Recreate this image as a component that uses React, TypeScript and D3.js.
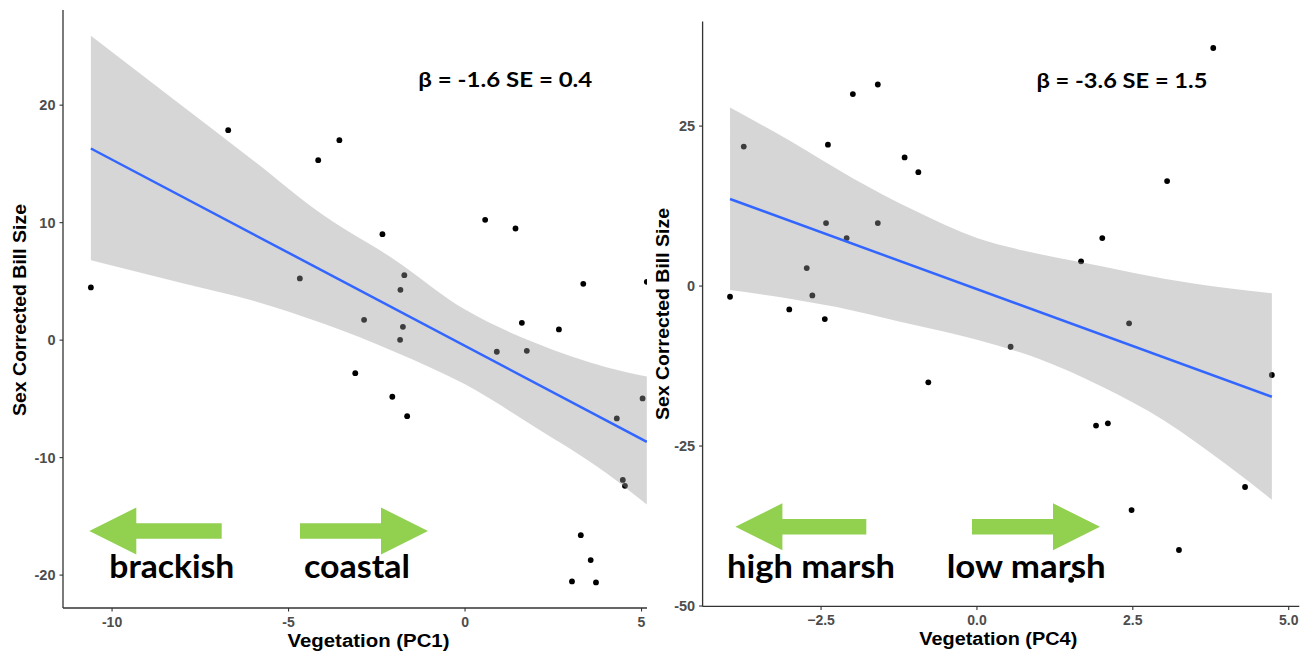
import React from "react";
import * as d3 from "d3";

// Vegetation PC1 scores and sex-corrected bill size
const pc1Veg = [-10.6, -6.71, -3.56, -4.16, -4.68, -2.34, 0.57, 1.43, 3.35, 5.15, -1.72, -1.83, -2.86, -1.76, -1.84, 1.61, 2.66, 0.9, 1.75, -3.11, -2.06, -1.64, 5.03, 4.3, 4.47, 4.53, 3.28, 3.56, 3.03, 3.71];
const pc1Bill = [4.49, 17.87, 17.02, 15.32, 5.25, 9.02, 10.24, 9.5, 4.79, 4.96, 5.53, 4.28, 1.73, 1.13, 0.03, 1.47, 0.91, -0.99, -0.91, -2.81, -4.82, -6.47, -4.96, -6.66, -11.9, -12.4, -16.6, -18.72, -20.54, -20.62];
// Linear fit and its 95% confidence band
const pc1Slope = -1.585;
const pc1Intercept = -0.49;
const pc1BandX = [-10.6, -8, -6, -4, -2, 0, 2, 4, 5.15];
const pc1BandHi = [25.9, 19.9, 15.3, 10.6, 6.85, 2.6, -0.25, -2.31, -3.1];
const pc1BandLo = [6.8, 4.85, 3.35, 1.39, -0.98, -3.76, -7.43, -11.3, -14.0];

// Vegetation PC4 scores and sex-corrected bill size
const pc4Veg = [-1.99, -1.59, -3.74, -2.39, -1.16, -0.94, -2.42, -1.59, -2.09, -2.73, -3.96, -2.64, -3.01, -2.44, -0.78, 2.01, 1.67, 2.44, 0.54, 4.73, 1.91, 2.1, 4.3, 2.48, 3.79, 3.05, 3.24, 1.51];
const pc4Bill = [30.0, 31.5, 21.8, 22.1, 20.1, 17.8, 9.84, 9.84, 7.5, 2.81, -1.67, -1.46, -3.65, -5.16, -15.05, 7.5, 3.86, -5.83, -9.48, -13.9, -21.8, -21.45, -31.4, -35.0, 37.2, 16.4, -41.25, -45.9];
const pc4Slope = -3.556;
const pc4Intercept = -0.48;
const pc4BandX = [-3.96, -3, -2, -1, 0, 1, 2, 3, 4, 4.73];
const pc4BandHi = [27.9, 22.7, 16.9, 11.8, 7.5, 5.0, 3.1, 1.15, -0.3, -1.14];
const pc4BandLo = [-0.63, -2.0, -3.8, -6.1, -8.4, -11.4, -15.7, -21.0, -27.9, -33.4];

// Tick values and labels
const pc1XTicks = [-10, -5, 0, 5];
const pc1YTicks = [-20, -10, 0, 10, 20];
const pc4XTicks = [-2.5, 0, 2.5, 5];
const pc4YTicks = [-50, -25, 0, 25];

const yTitle = "Sex Corrected Bill Size";
const pc1Title = "Vegetation (PC1)";
const pc4Title = "Vegetation (PC4)";
const pc1Stat = "β = -1.6 SE = 0.4";
const pc4Stat = "β = -3.6 SE = 1.5";
const pc1Ends = ["brackish", "coastal"];
const pc4Ends = ["high marsh", "low marsh"];

const AXIS = "#333333";
const TICK_TEXT = "#4d4d4d";
const ARROW = "#92D050";
const SANS = "'Liberation Sans', Arial, Helvetica, sans-serif";
const ANNOT = "Lato, 'Open Sans', 'Noto Sans', sans-serif";

type Panel = {
  id: string;
  xs: number[];
  ys: number[];
  slope: number;
  intercept: number;
  bandX: number[];
  bandHi: number[];
  bandLo: number[];
  xDomain: [number, number];
  xRange: [number, number];
  yDomain: [number, number];
  yRange: [number, number];
  clipRight: number;
  xTicks: number[];
  yTicks: number[];
  xFmt: (v: number) => string;
  xTitle: string;
  xTitleX: number;
  xTitleLen: number;
  yTitleX: number;
  yTitleY: number;
  stat: string;
  statX: number;
  statY: number;
  statLen: number;
  ends: string[];
  endsX: number[];
  endsLen: number[];
  arrowY: number;
  leftArrow: [number, number];
  rightArrow: [number, number];
};

const panels: Panel[] = [
  {
    id: "pc1",
    xs: pc1Veg,
    ys: pc1Bill,
    slope: pc1Slope,
    intercept: pc1Intercept,
    bandX: pc1BandX,
    bandHi: pc1BandHi,
    bandLo: pc1BandLo,
    xDomain: [-11.39, 5.94],
    xRange: [63, 674.7],
    yDomain: [-22.8, 28.1],
    yRange: [608, 10],
    clipRight: 647,
    xTicks: pc1XTicks,
    yTicks: pc1YTicks,
    xFmt: (v) => String(v),
    xTitle: pc1Title,
    xTitleX: 368.5,
    xTitleLen: 162,
    yTitleX: 25.5,
    yTitleY: 310,
    stat: pc1Stat,
    statX: 418.3,
    statY: 87.3,
    statLen: 174,
    ends: pc1Ends,
    endsX: [109.3, 304],
    endsLen: [125, 106],
    arrowY: 531,
    leftArrow: [89.3, 221.7],
    rightArrow: [300, 428],
  },
  {
    id: "pc4",
    xs: pc4Veg,
    ys: pc4Bill,
    slope: pc4Slope,
    intercept: pc4Intercept,
    bandX: pc4BandX,
    bandHi: pc4BandHi,
    bandLo: pc4BandLo,
    xDomain: [-4.4, 5.17],
    xRange: [702.6, 1299.3],
    yDomain: [-50.06, 41.36],
    yRange: [606.4, 21.4],
    clipRight: 1300,
    xTicks: pc4XTicks,
    yTicks: pc4YTicks,
    xFmt: (v) => d3.format(".1f")(v),
    xTitle: pc4Title,
    xTitleX: 998.3,
    xTitleLen: 158,
    yTitleX: 668.5,
    yTitleY: 314,
    stat: pc4Stat,
    statX: 1036.4,
    statY: 88,
    statLen: 171,
    ends: pc4Ends,
    endsX: [727, 946.7],
    endsLen: [168, 159],
    arrowY: 526.8,
    leftArrow: [735.4, 866.3],
    rightArrow: [972, 1100],
  },
];

// Block arrow: tip at `tip`, flat tail at `tail`
function arrowPath(tip: number, tail: number, cy: number): string {
  const dir = tail > tip ? 1 : -1;
  const headLen = 47;
  const headHalf = 23.5;
  const bodyHalf = 7.8;
  const base = tip + dir * headLen;
  return [
    `M${tip},${cy}`,
    `L${base},${cy - headHalf}`,
    `L${base},${cy - bodyHalf}`,
    `L${tail},${cy - bodyHalf}`,
    `L${tail},${cy + bodyHalf}`,
    `L${base},${cy + bodyHalf}`,
    `L${base},${cy + headHalf}`,
    "Z",
  ].join(" ");
}

function PanelView({ p }: { p: Panel }) {
  const x = d3.scaleLinear().domain(p.xDomain).range(p.xRange);
  const y = d3.scaleLinear().domain(p.yDomain).range(p.yRange);
  const left = p.xRange[0];
  const bottom = p.yRange[0];
  const top = p.yRange[1];
  const right = Math.min(p.xRange[1], p.clipRight);

  const band = d3
    .area<number>()
    .x((d) => x(d))
    .y0((_, i) => y(p.bandLo[i]))
    .y1((_, i) => y(p.bandHi[i]))
    .curve(d3.curveMonotoneX)(p.bandX);

  const xMin = d3.min(p.xs) as number;
  const xMax = d3.max(p.xs) as number;
  const fit = d3
    .line<number>()
    .x((d) => x(d))
    .y((d) => y(p.intercept + p.slope * d))([xMin, xMax]);

  const clipId = `clip-${p.id}`;

  return (
    <g>
      <defs>
        <clipPath id={clipId}>
          <rect x={left} y={0} width={right - left} height={656} />
        </clipPath>
      </defs>
      <g clipPath={`url(#${clipId})`}>
        {p.xs.map((v, i) => (
          <circle key={i} cx={x(v)} cy={y(p.ys[i])} r={2.9} fill="#000" />
        ))}
        <path d={band ?? ""} fill="#999999" fillOpacity={0.4} />
        <path d={fit ?? ""} fill="none" stroke="#3366FF" strokeWidth={2.5} />
      </g>

      {/* axes */}
      <line x1={left} x2={left} y1={top} y2={bottom} stroke={AXIS} strokeWidth={1.3} />
      <line x1={left} x2={right} y1={bottom} y2={bottom} stroke={AXIS} strokeWidth={1.3} />
      {p.yTicks.map((t) => (
        <g key={`y${t}`}>
          <line x1={left - 3.5} x2={left} y1={y(t)} y2={y(t)} stroke={AXIS} strokeWidth={1.1} />
          <text
            x={left - 7.5}
            y={y(t) + 5}
            textAnchor="end"
            fontFamily={SANS}
            fontWeight="bold"
            fontSize={14.5}
            fill={TICK_TEXT}
          >
            {String(t)}
          </text>
        </g>
      ))}
      {p.xTicks.map((t) => (
        <g key={`x${t}`}>
          <line x1={x(t)} x2={x(t)} y1={bottom} y2={bottom + 3.5} stroke={AXIS} strokeWidth={1.1} />
          <text
            x={x(t)}
            y={bottom + 18.5}
            textAnchor="middle"
            fontFamily={SANS}
            fontWeight="bold"
            fontSize={14}
            fill={TICK_TEXT}
          >
            {p.xFmt(t)}
          </text>
        </g>
      ))}

      {/* axis titles */}
      <text
        x={p.xTitleX - p.xTitleLen / 2}
        y={bottom + 39}
        textLength={p.xTitleLen}
        lengthAdjust="spacingAndGlyphs"
        fontFamily={SANS}
        fontWeight="bold"
        fontSize={18}
        fill="#000"
      >
        {p.xTitle}
      </text>
      <text
        transform={`translate(${p.yTitleX},${p.yTitleY}) rotate(-90)`}
        x={-106}
        y={0}
        textLength={212}
        lengthAdjust="spacingAndGlyphs"
        fontFamily={SANS}
        fontWeight="bold"
        fontSize={19}
        fill="#000"
      >
        {yTitle}
      </text>

      {/* fit statistics */}
      <text
        x={p.statX}
        y={p.statY}
        textLength={p.statLen}
        lengthAdjust="spacingAndGlyphs"
        fontFamily={ANNOT}
        fontWeight="bold"
        fontSize={20}
        fill="#000"
      >
        {p.stat}
      </text>

      {/* gradient direction arrows and labels */}
      <path d={arrowPath(p.leftArrow[0], p.leftArrow[1], p.arrowY)} fill={ARROW} />
      <path d={arrowPath(p.rightArrow[1], p.rightArrow[0], p.arrowY)} fill={ARROW} />
      {p.ends.map((label, i) => (
        <text
          key={label}
          x={p.endsX[i]}
          y={578.3}
          textLength={p.endsLen[i]}
          lengthAdjust="spacingAndGlyphs"
          fontFamily={ANNOT}
          fontWeight="bold"
          fontSize={31.5}
          fill="#000"
        >
          {label}
        </text>
      ))}
    </g>
  );
}

export default function App() {
  return (
    <svg
      width={1314}
      height={656}
      viewBox="0 0 1314 656"
      style={{ position: "absolute", left: 0, top: 0, background: "#fff", display: "block" }}
    >
      <rect width={1314} height={656} fill="#fff" />
      {panels.map((p) => (
        <PanelView key={p.id} p={p} />
      ))}
    </svg>
  );
}
